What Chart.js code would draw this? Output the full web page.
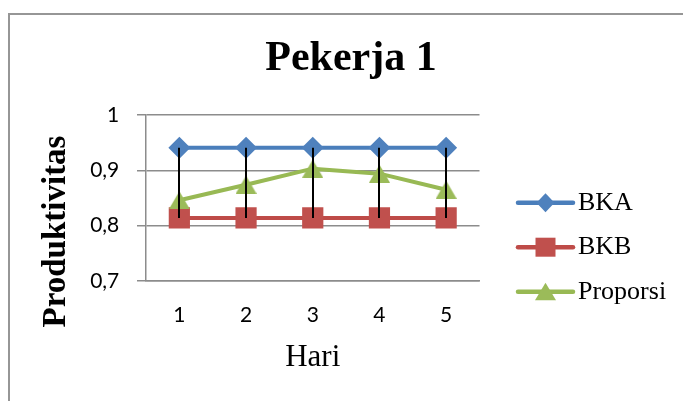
<!DOCTYPE html>
<html>
<head>
<meta charset="utf-8">
<title>Pekerja 1</title>
<script src="https://cdn.jsdelivr.net/npm/chart.js@4/dist/chart.umd.min.js"></script>
<style>
  html, body { margin: 0; padding: 0; background: #fff; width: 683px; height: 401px; overflow: hidden; }
  #frame {
    position: absolute; left: 8px; top: 13px; width: 720px; height: 420px;
    border-left: 2px solid #969696; border-top: 2px solid #969696; background: #fff;
  }
  #wrap { position: absolute; left: 0; top: 0; width: 682px; height: 386px; }
</style>
</head>
<body>
<div id="frame"><div id="wrap"><canvas id="chart" width="682" height="386"></canvas></div></div>
<script>
// Days on the x axis
const days = ['1', '2', '3', '4', '5'];
// Upper control limit (BKA), lower control limit (BKB) and daily proportion
const bka = [0.941, 0.941, 0.941, 0.941, 0.941];
const bkb = [0.814, 0.814, 0.814, 0.814, 0.814];
const proporsi = [0.846, 0.874, 0.903, 0.894, 0.865];
const seriesNames = ['BKA', 'BKB', 'Proporsi'];
// Value axis ticks
const yTickValues = [0.7, 0.8, 0.9, 1];
const yTickLabels = ['0,7', '0,8', '0,9', '1'];

const COLORS = {
  bkaLine: '#4a7ebb', bkaFill: '#4f81bd',
  bkbLine: '#be4b48', bkbFill: '#c0504d',
  propLine: '#98b954', propFill: '#9bbb59',
  grid: '#8c8c8c'
};

// Triangle marker whose bounding box is centred on the point
function triangleMarker(w, h, color) {
  const c = document.createElement('canvas');
  c.width = w; c.height = h;
  const g = c.getContext('2d');
  g.fillStyle = color;
  g.beginPath();
  g.moveTo(w / 2, 0); g.lineTo(w, h); g.lineTo(0, h); g.closePath();
  g.fill();
  return c;
}

// Vertical high-low lines joining BKA and BKB at every day
const hiLoLines = {
  id: 'hiLoLines',
  afterDatasetsDraw(chart) {
    const { ctx, scales: { x, y } } = chart;
    ctx.save();
    ctx.strokeStyle = '#000';
    ctx.lineWidth = 2;
    days.forEach((d, i) => {
      const px = Math.round(x.getPixelForValue(i));
      ctx.beginPath();
      ctx.moveTo(px, y.getPixelForValue(bka[i]));
      ctx.lineTo(px, y.getPixelForValue(bkb[i]));
      ctx.stroke();
    });
    ctx.restore();
  }
};

// Rotated value-axis title
const valueAxisTitle = {
  id: 'valueAxisTitle',
  afterDraw(chart, args, opts) {
    const { ctx } = chart;
    ctx.save();
    ctx.translate(opts.x, opts.y);
    ctx.rotate(-Math.PI / 2);
    ctx.font = 'bold 33px "Liberation Serif"';
    ctx.fillStyle = '#000';
    ctx.textAlign = 'center';
    ctx.textBaseline = 'middle';
    ctx.fillText(opts.text, 0, 0);
    ctx.restore();
  }
};

// Legend drawn as line + marker + name, stacked on the right
const sideLegend = {
  id: 'sideLegend',
  afterDraw(chart, args, opts) {
    const { ctx } = chart;
    const ds = chart.data.datasets;
    ctx.save();
    ds.forEach((set, i) => {
      const yy = opts.top + i * opts.step;
      const mx = (opts.x0 + opts.x1) / 2;
      ctx.strokeStyle = set.borderColor;
      ctx.lineWidth = 4.5;
      ctx.lineCap = 'round';
      ctx.beginPath();
      ctx.moveTo(opts.x0, yy);
      ctx.lineTo(opts.x1, yy);
      ctx.stroke();
      ctx.fillStyle = set.pointBackgroundColor;
      ctx.beginPath();
      if (i === 0) {
        ctx.moveTo(mx - 9, yy); ctx.lineTo(mx, yy - 9.5); ctx.lineTo(mx + 9, yy); ctx.lineTo(mx, yy + 9.5);
      } else if (i === 1) {
        ctx.rect(mx - 10, yy - 9.5, 20, 19);
      } else {
        ctx.moveTo(mx, yy - 9); ctx.lineTo(mx + 10.5, yy + 8.5); ctx.lineTo(mx - 10.5, yy + 8.5);
      }
      ctx.closePath();
      ctx.fill();
      ctx.fillStyle = '#000';
      ctx.font = '26px "Liberation Serif"';
      ctx.textAlign = 'left';
      ctx.textBaseline = 'middle';
      ctx.fillText(set.label, opts.textX, yy);
    });
    ctx.restore();
  }
};

function build() {
  const ctx = document.getElementById('chart');
  new Chart(ctx, {
    type: 'line',
    data: {
      labels: days,
      datasets: [
        {
          label: seriesNames[0], data: bka, order: 2,
          borderColor: COLORS.bkaLine, borderWidth: 4,
          pointStyle: 'rectRot', pointRadius: 11, pointHoverRadius: 11,
          pointBackgroundColor: COLORS.bkaFill, pointBorderColor: COLORS.bkaFill, pointBorderWidth: 0
        },
        {
          label: seriesNames[1], data: bkb, order: 1,
          borderColor: COLORS.bkbLine, borderWidth: 4,
          pointStyle: 'rect', pointRadius: 15, pointHoverRadius: 15,
          pointBackgroundColor: COLORS.bkbFill, pointBorderColor: COLORS.bkbFill, pointBorderWidth: 0
        },
        {
          label: seriesNames[2], data: proporsi, order: 0,
          borderColor: COLORS.propLine, borderWidth: 4,
          pointStyle: triangleMarker(21, 18, COLORS.propFill), pointRadius: 11,
          pointBackgroundColor: COLORS.propFill, pointBorderColor: COLORS.propFill, pointBorderWidth: 0
        }
      ]
    },
    options: {
      responsive: false,
      animation: false,
      events: [],
      layout: { padding: 0 },
      elements: { line: { tension: 0, borderJoinStyle: 'round' } },
      scales: {
        x: {
          type: 'category',
          offset: true,
          grid: { display: false, drawTicks: false },
          border: { display: true, color: COLORS.grid, width: 1.5 },
          ticks: { font: { family: 'Lato', size: 21 }, color: '#000', padding: 21.4, maxRotation: 0 },
          title: {
            display: true, text: 'Hari', color: '#000',
            font: { family: 'Liberation Serif', size: 31 },
            padding: { top: 0, bottom: 24.6 }
          },
          afterFit(scale) { scale.height = 120; }
        },
        y: {
          min: 0.7, max: 1,
          afterBuildTicks(scale) { scale.ticks = yTickValues.map(v => ({ value: v })); },
          grid: { color: COLORS.grid, lineWidth: 1.5, drawTicks: true, tickLength: 9, tickColor: COLORS.grid },
          border: { display: true, color: COLORS.grid, width: 1.5 },
          ticks: {
            font: { family: 'Lato', size: 21 }, color: '#000', padding: 17.7,
            callback: (v, i) => yTickLabels[i]
          },
          afterFit(scale) { scale.width = 136; }
        },
        // empty right-hand axis that keeps room for the legend column
        legendSpace: {
          type: 'linear', position: 'right', min: 0, max: 1,
          grid: { display: false, drawTicks: false },
          border: { display: false },
          ticks: { display: false },
          afterFit(scale) { scale.width = 212.5; }
        }
      },
      plugins: {
        legend: { display: false },
        tooltip: { enabled: false },
        title: {
          display: true, text: 'Pekerja 1', color: '#000',
          font: { family: 'Liberation Serif', size: 42, weight: 'bold' },
          padding: { top: 18.9, bottom: 30.7 }
        },
        valueAxisTitle: { text: 'Produktivitas', x: 46, y: 216.5 },
        sideLegend: { x0: 508, x1: 563, textX: 568, top: 187.7, step: 44.5 }
      }
    },
    plugins: [hiLoLines, valueAxisTitle, sideLegend]
  });
}

const fontLoads = [
  'bold 42px "Liberation Serif"', '26px "Liberation Serif"', 'bold 33px "Liberation Serif"', '21px Lato'
].map(f => document.fonts.load(f).catch(() => null));
Promise.all(fontLoads).then(build, build);
</script>
</body>
</html>
